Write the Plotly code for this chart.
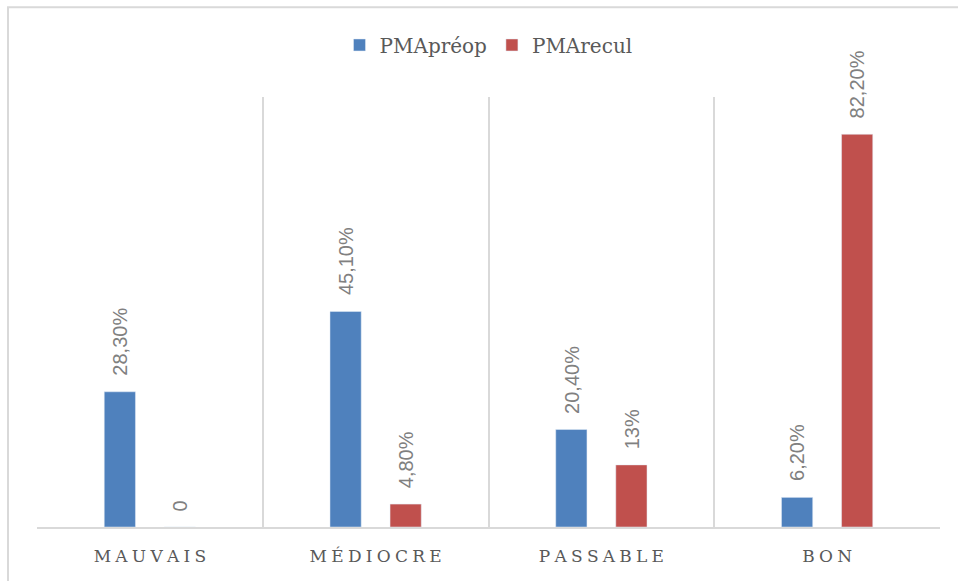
import plotly.graph_objects as go

categories = ["MAUVAIS", "MÉDIOCRE", "PASSABLE", "BON"]
preop_values = [28.3, 45.1, 20.4, 6.2]
preop_labels = ["28,30%", "45,10%", "20,40%", "6,20%"]
recul_values = [0.0, 4.8, 13.0, 82.2]
recul_labels = ["0", "4,80%", "13%", "82,20%"]

# spaced-out display of the category names
tick_text = ["\u2005".join(c) for c in categories]

BARGAP = 0.468
label_font = dict(family="Liberation Sans, Arial, sans-serif", size=20, color="#808080")

fig = go.Figure()
fig.add_trace(go.Bar(name="PMApréop", x=categories, y=preop_values, marker_color="#4f81bd"))
fig.add_trace(go.Bar(name="PMArecul", x=categories, y=recul_values, marker_color="#c0504d"))

# value labels, rotated, sitting above each bar of the group
half_slot = (1 - BARGAP) / 4
for series_values, series_labels, side in ((preop_values, preop_labels, -1),
                                           (recul_values, recul_labels, 1)):
    for i, (v, lab) in enumerate(zip(series_values, series_labels)):
        fig.add_annotation(x=i + side * half_slot, y=v, xref="x", yref="y",
                           text=lab, showarrow=False, textangle=-90,
                           xanchor="center", yanchor="bottom", yshift=14,
                           font=label_font)

fig.update_layout(
    width=958, height=581,
    margin=dict(l=37, r=18, t=97, b=54),
    paper_bgcolor="white", plot_bgcolor="white",
    barmode="group", bargap=BARGAP, bargroupgap=0.48,
    showlegend=True,
    legend=dict(orientation="h", x=0.5, xanchor="center", y=1.121, yanchor="middle",
                font=dict(family="DejaVu Serif, serif", size=20, color="#595959"),
                itemwidth=30, traceorder="normal"),
)
fig.update_xaxes(
    tickmode="array", tickvals=categories, ticktext=tick_text,
    tickson="boundaries", showgrid=True, gridcolor="#d9d9d9", gridwidth=2,
    showline=True, linecolor="#d9d9d9", linewidth=2, ticks="",
    tickfont=dict(family="DejaVu Serif, serif", size=17, color="#595959"),
    ticklabelstandoff=13,
)
fig.update_yaxes(range=[0, 90], visible=False, showgrid=False)

# outer chart frame
fig.add_shape(type="rect", xref="paper", yref="paper",
              x0=-0.0321, x1=1.03, y0=-0.2, y1=1.209,
              line=dict(color="#d9d9d9", width=2), fillcolor="rgba(0,0,0,0)", layer="below")

fig.write_html("out.html")
